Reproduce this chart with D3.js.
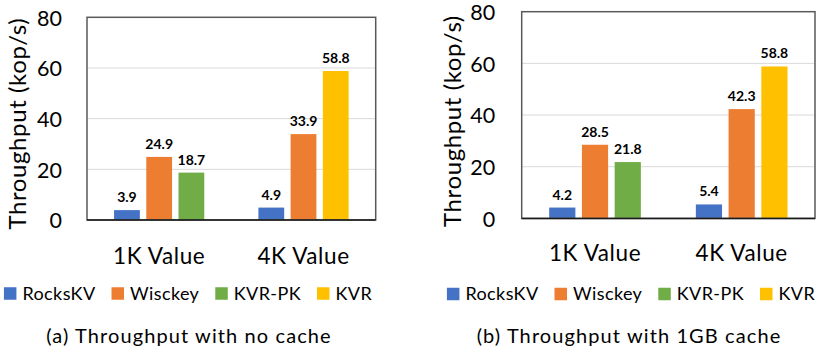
<!DOCTYPE html>
<html>
<head>
<meta charset="utf-8">
<script src="https://cdn.jsdelivr.net/npm/d3@7"></script>
<style>
  html, body { margin: 0; padding: 0; background: #fff; }
  svg { display: block; }
  text { font-family: Lato, "Open Sans", sans-serif; fill: #000; }
</style>
</head>
<body>
<svg id="chart" width="819" height="355"></svg>
<script>
// Categories and series
const categories = ["1K Value", "4K Value"];
const seriesNames = ["RocksKV", "Wisckey", "KVR-PK", "KVR"];
const seriesColors = ["#4472C4", "#ED7D31", "#70AD47", "#FFC000"];

// Throughput (kop/s), no cache; null = not measured for that value size
const rocksKVNoCache = [3.9, 4.9];
const wisckeyNoCache = [24.9, 33.9];
const kvrPKNoCache = [18.7, null];
const kvrNoCache = [null, 58.8];

// Throughput (kop/s), 1GB cache
const rocksKVCache = [4.2, 5.4];
const wisckeyCache = [28.5, 42.3];
const kvrPKCache = [21.8, null];
const kvrCache = [null, 58.8];

const yTicks = [0, 20, 40, 60, 80];
const yTitle = "Throughput (kop/s)";

const svg = d3.select("#chart");

function drawPanel(cfg) {
  const g = svg.append("g").attr("transform", `translate(${cfg.left},${cfg.top})`);
  const w = cfg.width, h = cfg.height;

  const y = d3.scaleLinear().domain([0, 80]).range([h, 0]);
  const x0 = d3.scaleBand().domain(categories).range([0, w]);
  const x1 = d3.scaleBand().domain([0, 1, 2]).range([0, x0.bandwidth()])
    .paddingInner(0.2).paddingOuter(0.84);

  // gridlines
  g.append("g").selectAll("line")
    .data(yTicks.filter(t => t > 0 && t < 80))
    .join("line")
    .attr("x1", 0).attr("x2", w)
    .attr("y1", d => y(d)).attr("y2", d => y(d))
    .attr("stroke", "#d9d9d9").attr("stroke-width", 1);

  // y tick labels
  const yAxis = d3.axisLeft(y).tickValues(yTicks).tickSize(0).tickPadding(cfg.tickPad);
  const ya = g.append("g").call(yAxis);
  ya.select(".domain").remove();
  ya.selectAll("text").attr("font-size", 21.5).attr("font-family", "Lato, sans-serif")
    .attr("fill", "#000").attr("dy", "0.36em");

  // y title
  g.append("text")
    .attr("transform", `translate(${-cfg.titleOffset},${h / 2 + cfg.titleShift}) rotate(-90)`)
    .attr("text-anchor", "middle")
    .attr("dy", "0.35em")
    .attr("font-size", 24)
    .attr("letter-spacing", 0.6)
    .text(yTitle);

  // bars: present series fill consecutive slots within each category
  const bars = [];
  categories.forEach((cat, ci) => {
    let slot = 0;
    cfg.series.forEach((vals, si) => {
      const v = vals[ci];
      if (v == null) return;
      bars.push({ cat, slot, si, v });
      slot++;
    });
  });

  const bg = g.append("g");
  bg.selectAll("rect").data(bars).join("rect")
    .attr("x", d => x0(d.cat) + x1(d.slot))
    .attr("y", d => y(d.v))
    .attr("width", x1.bandwidth())
    .attr("height", d => h - y(d.v))
    .attr("fill", d => seriesColors[d.si]);

  bg.selectAll("text").data(bars).join("text")
    .attr("x", d => x0(d.cat) + x1(d.slot) + x1.bandwidth() / 2)
    .attr("y", d => y(d.v) - 8)
    .attr("text-anchor", "middle")
    .attr("font-size", 14)
    .attr("font-weight", 700)
    .text(d => d.v.toFixed(1));

  // plot frame
  g.append("rect")
    .attr("x", 0).attr("y", 0).attr("width", w).attr("height", h)
    .attr("fill", "none").attr("stroke", "#595959").attr("stroke-width", 1.5);
  g.append("line").attr("x1", 0).attr("x2", w).attr("y1", h).attr("y2", h)
    .attr("stroke", "#1a1a1a").attr("stroke-width", 1.5);

  // category labels
  const xAxis = d3.axisBottom(x0).tickSize(0).tickPadding(0);
  const xa = g.append("g").attr("transform", `translate(0,${h})`).call(xAxis);
  xa.select(".domain").remove();
  xa.selectAll("text").attr("font-size", 22.5).attr("letter-spacing", 0.6)
    .attr("font-family", "Lato, sans-serif")
    .attr("fill", "#000").attr("y", cfg.catLabelOffset).attr("dy", "0.35em");

  // legend
  const lg = svg.append("g");
  const items = lg.selectAll("g").data(seriesNames).join("g");
  items.append("rect").attr("width", 12.5).attr("height", 12.5)
    .attr("y", -6.25).attr("fill", (d, i) => seriesColors[i]);
  items.append("text").attr("x", 18.5).attr("dy", "0.35em")
    .attr("font-size", 18).attr("letter-spacing", 0.4).text(d => d);
  let cx = 0;
  items.each(function () {
    const node = d3.select(this);
    node.attr("transform", `translate(${cx},0)`);
    cx += 18.5 + node.select("text").node().getComputedTextLength() + 16;
  });
  const total = cx - 16;
  const lx = Math.min(cfg.legendCenter - total / 2, 816 - total);
  lg.attr("transform", `translate(${lx},${cfg.legendY})`);

  // caption
  svg.append("text")
    .attr("x", cfg.captionCenter).attr("y", cfg.captionY)
    .attr("text-anchor", "middle").attr("dy", "0.35em")
    .attr("font-family", "'Open Sans', Lato, sans-serif")
    .attr("font-size", 20)
    .attr("letter-spacing", 1.1)
    .text(cfg.caption);
}

drawPanel({
  left: 87, top: 17.3, width: 288.7, height: 202.7,
  series: [rocksKVNoCache, wisckeyNoCache, kvrPKNoCache, kvrNoCache],
  tickPad: 25, titleOffset: 69.5, titleShift: 5, catLabelOffset: 36,
  legendCenter: 188, legendY: 293.5,
  caption: "(a) Throughput with no cache", captionCenter: 189, captionY: 336
});

drawPanel({
  left: 521.7, top: 11.7, width: 293.3, height: 206.7,
  series: [rocksKVCache, wisckeyCache, kvrPKCache, kvrCache],
  tickPad: 26.5, titleOffset: 69.5, titleShift: 6, catLabelOffset: 35,
  legendCenter: 631, legendY: 294,
  caption: "(b) Throughput with 1GB cache", captionCenter: 629, captionY: 336
});
</script>
</body>
</html>
